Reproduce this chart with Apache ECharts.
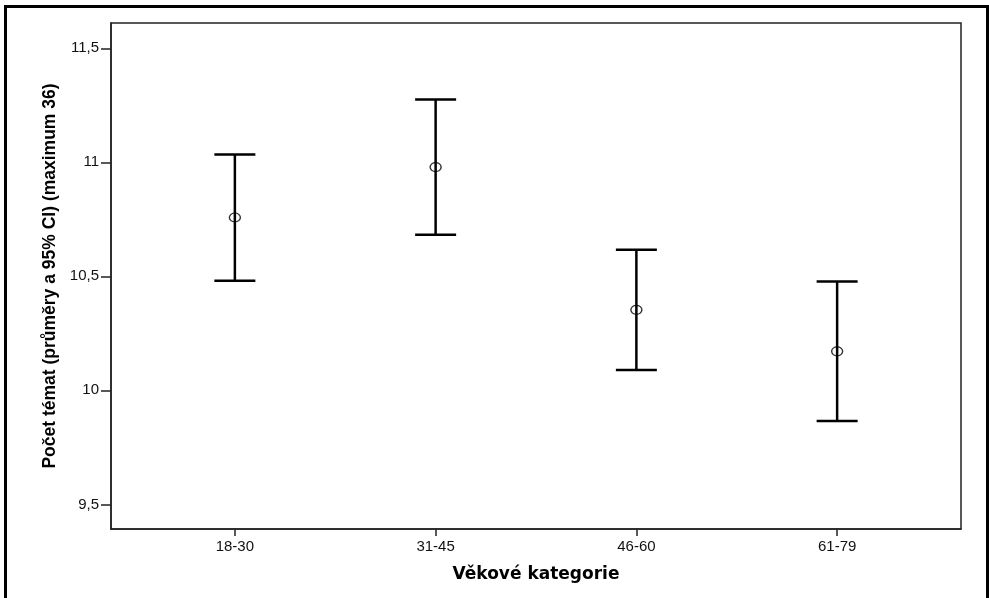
<!DOCTYPE html>
<html>
<head>
<meta charset="utf-8">
<script src="https://cdn.jsdelivr.net/npm/echarts@6/dist/echarts.min.js"></script>
<style>html,body{margin:0;padding:0;background:#fff;}#c{width:989px;height:598px;}</style>
</head>
<body>
<div id="c"></div>
<script>
const categories = ['18-30', '31-45', '46-60', '61-79'];
const means = [10.758, 10.979, 10.353, 10.171];
const lower = [10.481, 10.682, 10.089, 9.866];
const upper = [11.034, 11.276, 10.617, 10.477];
const yTicks = [9.5, 10, 10.5, 11, 11.5];
const xTitle = 'Věkové kategorie';
const yTitle = 'Počet témat (průměry a 95% CI) (maximum 36)';

const chart = echarts.init(document.getElementById('c'), null, {renderer: 'canvas'});
const xPos = categories.map((c, i) => i);
const errData = categories.map((c, i) => [i, lower[i], upper[i]]);
const meanData = categories.map((c, i) => [i, means[i]]);

const option = {
  backgroundColor: '#fff',
  animation: false,
  graphic: [{
    type: 'rect',
    shape: {x: 5.5, y: 6.5, width: 982, height: 600},
    style: {fill: 'none', stroke: '#000', lineWidth: 3}
  }],
  grid: {left: 111, top: 23, right: 28, bottom: 69, show: true, borderColor: '#222', borderWidth: 1.5, backgroundColor: '#fff'},
  xAxis: {
    type: 'value', min: -0.617, max: 3.617,
    name: xTitle, nameLocation: 'middle', nameGap: 37,
    nameTextStyle: {fontFamily: 'DejaVu Sans', fontWeight: 'bold', fontSize: 17, color: '#000'},
    axisLine: {show: true, onZero: false, lineStyle: {color: '#222', width: 1.5}},
    axisTick: {show: true, length: 7, customValues: xPos, lineStyle: {color: '#222', width: 1.5}},
    axisLabel: {customValues: xPos, margin: 10, fontFamily: 'Liberation Sans', fontSize: 15, color: '#111',
      formatter: v => categories[Math.round(v)] || ''},
    splitLine: {show: false}
  },
  yAxis: {
    type: 'value', min: 9.392, max: 11.611,
    name: yTitle, nameLocation: 'middle', nameGap: 52,
    nameTextStyle: {fontFamily: 'Liberation Sans', fontWeight: 'bold', fontSize: 17.5, color: '#000'},
    axisLine: {show: true, onZero: false, lineStyle: {color: '#222', width: 1.5}},
    axisTick: {show: true, length: 10, customValues: yTicks, lineStyle: {color: '#222', width: 1.5}},
    axisLabel: {customValues: yTicks, margin: 12, fontFamily: 'Liberation Sans', fontSize: 15, color: '#111',
      formatter: v => String(v).replace('.', ',')},
    splitLine: {show: false}
  },
  series: [{
    type: 'custom',
    data: errData,
    renderItem: function (params, api) {
      const x = api.value(0);
      const lo = api.coord([x, api.value(1)]);
      const hi = api.coord([x, api.value(2)]);
      const hw = 20.5;
      return {
        type: 'group',
        children: [
          {type: 'line', shape: {x1: lo[0], y1: lo[1], x2: hi[0], y2: hi[1]}, style: {stroke: '#000', lineWidth: 2.5}},
          {type: 'line', shape: {x1: lo[0] - hw, y1: lo[1], x2: lo[0] + hw, y2: lo[1]}, style: {stroke: '#000', lineWidth: 2.5}},
          {type: 'line', shape: {x1: hi[0] - hw, y1: hi[1], x2: hi[0] + hw, y2: hi[1]}, style: {stroke: '#000', lineWidth: 2.5}}
        ]
      };
    },
    z: 2
  }, {
    type: 'scatter',
    data: meanData,
    symbol: 'circle',
    symbolSize: [11, 9],
    itemStyle: {color: 'rgba(0,0,0,0)', borderColor: '#000', borderWidth: 1.3},
    z: 3
  }]
};
chart.setOption(option);
</script>
</body>
</html>
